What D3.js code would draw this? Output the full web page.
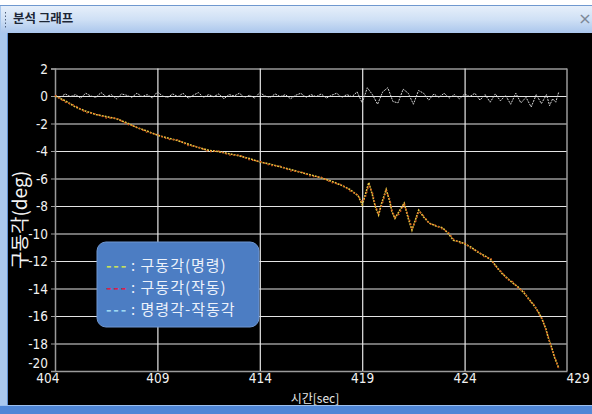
<!DOCTYPE html>
<html><head><meta charset="utf-8">
<script src="https://cdn.jsdelivr.net/npm/d3@7"></script>
<style>
html,body{margin:0;padding:0;background:#fff;overflow:hidden}
svg{display:block}
.tick text{font-family:"Liberation Sans Narrow","DejaVu Sans Condensed","Liberation Sans",sans-serif;}
</style></head>
<body>
<svg id="c" width="592" height="414"></svg>
<script>
// ---- data ----
const xTicks = [404, 409, 414, 419, 424, 429];
const yTicks = [2, 0, -2, -4, -6, -8, -10, -12, -14, -16, -18, -20];
const seriesNames = ["구동각(명령)", "구동각(작동)", "명령각-작동각"];

const timeMain = [404.0,404.5,405.0,405.5,406.0,406.5,407.0,407.5,408.0,408.5,409.0,409.5,410.0,410.5,411.0,411.5,412.0,412.5,413.0,413.5,414.0,414.5,415.0,415.5,416.0,416.5,417.0,417.5,418.0,418.4,418.8,419.0,419.15,419.32,419.5,419.65,419.8,419.95,420.17,420.35,420.45,420.6,420.8,421.05,421.25,421.43,421.6,421.76,422.0,422.28,422.6,422.94,423.2,423.46,423.75,424.0,424.32,424.64,424.96,425.28,425.55,425.82,426.08,426.35,426.62,426.89,427.16,427.42,427.64,427.8,427.96,428.07,428.23,428.39,428.6];
const cmdAngle = [0.0,-0.35,-0.8,-1.1,-1.35,-1.5,-1.65,-1.95,-2.3,-2.55,-2.85,-3.05,-3.25,-3.5,-3.75,-3.95,-4.05,-4.2,-4.35,-4.55,-4.8,-4.95,-5.15,-5.35,-5.55,-5.75,-5.95,-6.2,-6.5,-6.8,-7.25,-7.9,-7.2,-6.3,-7.2,-8.1,-8.65,-7.8,-6.8,-7.7,-8.4,-8.9,-8.4,-7.8,-8.9,-9.75,-9.0,-8.3,-8.8,-9.25,-9.45,-9.6,-10.0,-10.5,-10.6,-10.75,-11.0,-11.35,-11.6,-11.9,-12.4,-12.9,-13.25,-13.6,-13.9,-14.3,-14.8,-15.3,-15.8,-16.3,-16.9,-17.5,-18.2,-19.0,-19.8];
const actAngle = [0.05,-0.45,-0.7,-1.2,-1.3,-1.6,-1.6,-2.05,-2.25,-2.65,-2.8,-3.15,-3.2,-3.6,-3.7,-4.05,-4.0,-4.3,-4.3,-4.65,-4.75,-5.05,-5.1,-5.45,-5.5,-5.85,-5.9,-6.3,-6.45,-6.9,-7.2,-7.7,-7.4,-6.5,-7.0,-8.0,-8.5,-8.0,-6.9,-7.5,-8.3,-8.8,-8.6,-7.9,-8.7,-9.6,-9.2,-8.4,-8.7,-9.3,-9.4,-9.7,-9.9,-10.4,-10.7,-10.7,-11.1,-11.3,-11.7,-11.8,-12.5,-12.8,-13.35,-13.5,-14.0,-14.2,-14.9,-15.2,-15.9,-16.2,-17.0,-17.4,-18.3,-18.9,-19.9];

const timeDiff = [404.00,404.25,404.50,404.75,405.00,405.25,405.50,405.75,406.00,406.25,406.50,406.75,407.00,407.25,407.50,407.75,408.00,408.25,408.50,408.75,409.00,409.25,409.50,409.75,410.00,410.25,410.50,410.75,411.00,411.25,411.50,411.75,412.00,412.25,412.50,412.75,413.00,413.25,413.50,413.75,414.00,414.25,414.50,414.75,415.00,415.25,415.50,415.75,416.00,416.25,416.50,416.75,417.00,417.25,417.50,417.75,418.00,418.25,418.50,418.75,419.00,419.25,419.50,419.75,420.00,420.25,420.50,420.75,421.00,421.25,421.50,421.75,422.00,422.25,422.50,422.75,423.00,423.25,423.50,423.75,424.00,424.25,424.50,424.75,425.00,425.25,425.50,425.75,426.00,426.25,426.50,426.75,427.00,427.25,427.50,427.75,428.00,428.15,428.30,428.45,428.60];
const diffAngle = [0.05,-0.1,0.15,-0.05,0.1,-0.15,0.2,0.0,-0.1,0.25,-0.05,0.1,-0.2,0.15,0.05,-0.1,0.2,-0.05,0.1,-0.15,0.3,0.0,-0.1,0.15,-0.05,0.2,-0.15,0.05,0.25,-0.1,0.1,-0.05,0.15,-0.2,0.1,0.0,0.2,-0.1,0.05,-0.15,0.25,0.0,-0.1,0.15,-0.05,0.1,-0.2,0.05,0.2,-0.1,0.1,-0.05,0.15,-0.15,0.05,0.2,-0.1,0.1,-0.05,0.3,-0.5,0.6,0.1,-0.6,0.3,0.6,-0.4,-0.5,0.5,0.2,-0.6,0.4,0.2,-0.3,0.15,-0.1,0.2,-0.15,0.1,-0.2,0.15,-0.05,0.2,-0.3,0.1,-0.45,0.15,-0.35,0.05,-0.6,0.2,-0.5,-0.1,-0.8,0.1,-0.55,0.1,-0.7,-0.2,-0.45,0.3];

// ---- frame ----
const svg = d3.select("#c");
const defs = svg.append("defs");
const g1 = defs.append("linearGradient").attr("id","tb").attr("x1",0).attr("y1",0).attr("x2",0).attr("y2",1);
g1.append("stop").attr("offset","0%").attr("stop-color","#e6effa");
g1.append("stop").attr("offset","50%").attr("stop-color","#cfe0f5");
g1.append("stop").attr("offset","100%").attr("stop-color","#aac6ec");

svg.append("rect").attr("x",0).attr("y",0).attr("width",592).attr("height",414).attr("fill","#ffffff");
svg.append("rect").attr("x",0).attr("y",5).attr("width",592).attr("height",409).attr("fill","#a9c8ee");
svg.append("rect").attr("x",0).attr("y",5).attr("width",592).attr("height",1).attr("fill","#6f98cf");
svg.append("rect").attr("x",1).attr("y",6).attr("width",591).attr("height",27).attr("fill","url(#tb)");
svg.append("rect").attr("x",7).attr("y",33).attr("width",585).attr("height",373).attr("fill","#5f8fd0");
svg.append("rect").attr("x",8).attr("y",33).attr("width",584).attr("height",372).attr("fill","#000000");
svg.append("rect").attr("x",0).attr("y",406).attr("width",592).attr("height",8).attr("fill","#4f86d6");
svg.append("rect").attr("x",0).attr("y",405).attr("width",592).attr("height",1).attr("fill","#9cc0ee");
// grip dots
svg.append("g").selectAll("rect").data(d3.range(5)).join("rect")
  .attr("x",5).attr("y",d=>12+d*3.5).attr("width",1).attr("height",1.5).attr("fill","#50627e");
svg.append("text").attr("x",13).attr("y",23).text("분석 그래프")
  .attr("font-family","'Noto Sans CJK KR',sans-serif").attr("font-weight","bold")
  .attr("font-size",12.5).attr("fill","#1c2636");
svg.append("text").attr("x",585).attr("y",24).attr("text-anchor","middle").text("×")
  .attr("font-family","'DejaVu Sans',sans-serif").attr("font-size",16).attr("fill","#7d8898");

// ---- scales ----
const x = d3.scaleLinear().domain([404,429]).range([55,567]);
const y = d3.scaleLinear().domain([-20,2]).range([371,68.5]);

const plot = svg.append("g");
// horizontal grid
plot.append("g").attr("transform",`translate(${x(404)},0)`)
  .call(d3.axisLeft(y).tickValues(yTicks.filter(v=>v>-20)).tickSize(-(x(429)-x(404))).tickFormat(""))
  .call(g=>g.select(".domain").remove())
  .call(g=>g.selectAll("line").attr("stroke","#e4e4e4").attr("stroke-width",1.2));
// vertical grid
plot.append("g").attr("transform",`translate(0,${y(-20)})`)
  .call(d3.axisBottom(x).tickValues(xTicks.slice(1,-1)).tickSize(-(y(-20)-y(2))).tickFormat(""))
  .call(g=>g.select(".domain").remove())
  .call(g=>g.selectAll("line").attr("stroke","#e8e8e8").attr("stroke-width",1.2));
// right edge
plot.append("line").attr("x1",x(429)).attr("x2",x(429)).attr("y1",y(2)).attr("y2",y(-20))
  .attr("stroke","#9a9a9a").attr("stroke-width",1.5);

// y axis
const yAx = plot.append("g").attr("transform",`translate(${x(404)},0)`)
  .call(d3.axisLeft(y).tickValues(yTicks).tickSize(4).tickPadding(3).tickFormat(d=>d));
yAx.select(".domain").attr("stroke","#9a9a9a").attr("stroke-width",1.5);
yAx.selectAll(".tick line").attr("stroke","#9a9a9a");
yAx.selectAll(".tick text").attr("fill","#f2f2f2").attr("font-size",13.5)
  .attr("dy",(d)=> d===-20 ? "-0.25em" : "0.35em");

// x axis
const xAx = plot.append("g").attr("transform",`translate(0,${y(-20)})`)
  .call(d3.axisBottom(x).tickValues(xTicks).tickSize(0).tickPadding(2).tickFormat(d=>d));
xAx.select(".domain").attr("stroke","#9a9a9a").attr("stroke-width",1.5);
xAx.selectAll(".tick text").attr("fill","#f2f2f2").attr("font-size",13.5)
  .attr("text-anchor",(d)=> d===404 ? "end" : (d===429 ? "start" : "middle"))
  .attr("dx",(d)=> d===404 ? "4" : (d===429 ? "-1" : "0"));

// axis titles
svg.append("text").attr("transform",`translate(27,220) rotate(-90)`).attr("text-anchor","middle")
  .text("구동각(deg)").attr("font-family","'Noto Sans CJK KR',sans-serif")
  .attr("font-size",19).attr("fill","#f4f4f4");
svg.append("text").attr("x",315).attr("y",403).attr("text-anchor","middle")
  .text("시간[sec]").attr("font-family","'Noto Sans CJK KR',sans-serif")
  .attr("font-size",12).attr("fill","#e8e8e8");

// ---- series ----
const line = d3.line().x(d=>x(d[0])).y(d=>y(d[1]));
const cmdData = timeMain.map((t,i)=>[t,cmdAngle[i]]);
const actData = timeMain.map((t,i)=>[t,actAngle[i]]);
const diffData = timeDiff.map((t,i)=>[t,diffAngle[i]]);

plot.append("path").datum(diffData).attr("d",line).attr("fill","none")
  .attr("stroke","#d6d6d6").attr("stroke-width",1).attr("stroke-dasharray","2,1");
plot.append("path").datum(cmdData).attr("d",line).attr("fill","none")
  .attr("stroke","#e8c440").attr("stroke-width",1.6).attr("stroke-dasharray","2,1");
plot.append("path").datum(actData).attr("d",line).attr("fill","none")
  .attr("stroke","#d8541c").attr("stroke-width",1.3).attr("stroke-dasharray","1.5,2.5");

// ---- legend ----
const lg = svg.append("g");
lg.append("rect").attr("x",97).attr("y",242).attr("width",162).attr("height",85).attr("rx",9)
  .attr("fill","#4c7dc3").attr("stroke","#6f97d2").attr("stroke-width",1);
const legColors = ["#c9e05a","#d8204a","#9fd8f4"];
const rows = lg.selectAll("g.row").data(seriesNames).join("g").attr("class","row")
  .attr("transform",(d,i)=>`translate(0,${264+i*22})`);
rows.append("text").attr("x",106).attr("y",0).attr("dominant-baseline","central")
  .text("---").attr("letter-spacing",1.8).attr("font-family","'Noto Sans CJK KR',sans-serif")
  .attr("font-size",15).attr("font-weight","bold").attr("fill",(d,i)=>legColors[i]);
rows.append("text").attr("x",131).attr("y",0).attr("dominant-baseline","central")
  .text(d=>": "+d).attr("letter-spacing",1).attr("font-family","'Noto Sans CJK KR',sans-serif")
  .attr("font-size",15).attr("fill","#edf2fb");
</script>
</body></html>
